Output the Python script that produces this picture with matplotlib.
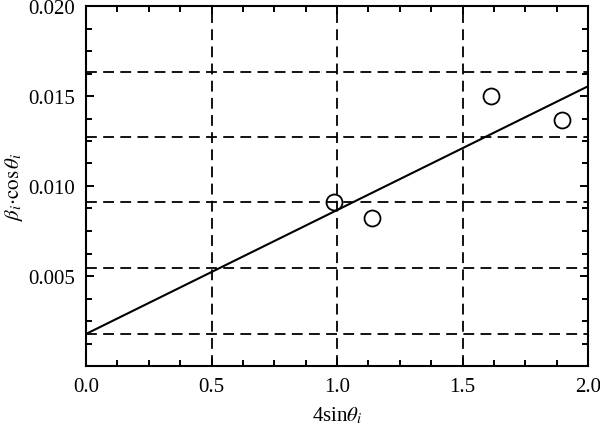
import matplotlib
matplotlib.use("Agg")
import matplotlib.pyplot as plt
from matplotlib.ticker import MultipleLocator
import numpy as np

# Data
x_pts = np.array([0.988, 1.138, 1.614, 1.895])
y_pts = np.array([0.00913, 0.00822, 0.01502, 0.01367])

# Fitted line endpoints
fit_x = np.array([0.0, 2.0])
fit_y = np.array([0.00178, 0.01554])

# Dashed guide lines
hlines = [0.00178, 0.00544, 0.00913, 0.01274, 0.01635]
vlines = [0.5, 1.0, 1.5]

plt.rcParams['font.family'] = 'Liberation Serif'
plt.rcParams['mathtext.fontset'] = 'stix'

fig = plt.figure(figsize=(6, 4.27), dpi=100)
ax = fig.add_axes([86 / 600, 1 - 367 / 427, 502 / 600, 360 / 427])

for h in hlines:
    ax.axhline(h, color='black', linestyle=(0, (6, 3.5)), linewidth=1.3)
for v in vlines:
    ax.axvline(v, color='black', linestyle=(0, (6, 3.5)), linewidth=1.3)

ax.plot(fit_x, fit_y, color='black', linewidth=1.5)
ax.plot(x_pts, y_pts, marker='o', linestyle='', markersize=11.5,
        markerfacecolor='none', markeredgecolor='black', markeredgewidth=1.3)

ax.set_xlim(0, 2)
ax.set_ylim(0, 0.020)
ax.xaxis.set_minor_locator(MultipleLocator(0.125))
ax.yaxis.set_minor_locator(MultipleLocator(0.00125))
ax.set_xticks([0, 0.5, 1.0, 1.5, 2.0])
ax.set_xticklabels(['0.0', '0.5', '1.0', '1.5', '2.0'])
ax.set_yticks([0.005, 0.010, 0.015, 0.020])
ax.set_yticklabels(['0.005', '0.010', '0.015', '0.020'])

ax.tick_params(which='both', direction='in', top=True, right=True,
               labelsize=15, width=1.4)
ax.tick_params(which='major', length=6, pad=8)
ax.tick_params(which='minor', length=4.5)
for s in ax.spines.values():
    s.set_linewidth(1.5)

ax.set_xlabel(r'4sin$\theta_i$', fontsize=15, labelpad=6)
ax.set_ylabel(r'$\beta_i{\cdot}\cos\theta_i$', fontsize=15, labelpad=2)

fig.savefig('out.png', dpi=100)
